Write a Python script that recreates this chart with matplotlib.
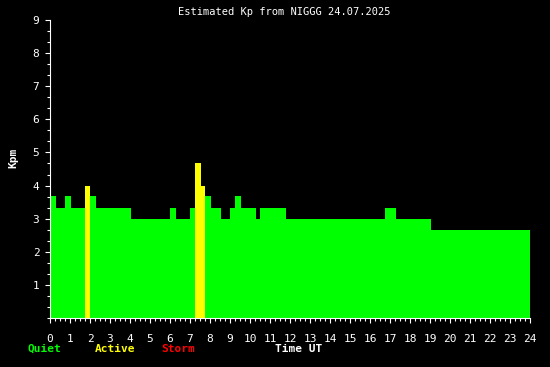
import numpy as np
import matplotlib
matplotlib.use('Agg')
import matplotlib.pyplot as plt

# step edges (hours UT) and estimated Kp for each step
t_start = [0.0, 0.3, 0.75, 1.05, 1.75, 2.0, 2.3, 4.05, 6.0, 6.3, 7.0, 7.25, 7.55, 7.75,
           8.05, 8.55, 9.0, 9.25, 9.55, 10.3, 10.5, 11.8, 16.75, 17.3, 19.05]
t_end = t_start[1:] + [24.0]
kp = [3.67, 3.33, 3.67, 3.33, 4.0, 3.67, 3.33, 3.0, 3.33, 3.0, 3.33, 4.67, 4.0, 3.67,
      3.33, 3.0, 3.33, 3.67, 3.33, 3.0, 3.33, 3.0, 3.33, 3.0, 2.67]

t_start = np.array(t_start)
width = np.array(t_end) - t_start
kp = np.array(kp)
colors = np.where(kp >= 5, '#ff0000', np.where(kp >= 4, '#ffff00', '#00ff00'))

font = 'DejaVu Sans Mono'
plt.rcParams['font.family'] = font

fig = plt.figure(figsize=(5.5, 3.67), dpi=100, facecolor='black')
ax = fig.add_axes([50/550, 49/367, 480/550, 298/367], facecolor='black')

ax.bar(t_start, kp, width=width, align='edge', color=colors, linewidth=0)

ax.set_xlim(0, 24)
ax.set_ylim(0, 9)
for s in ['top', 'right']:
    ax.spines[s].set_visible(False)
for s in ['left', 'bottom']:
    ax.spines[s].set_color('white')
    ax.spines[s].set_linewidth(0.8)

ax.set_xticks(np.arange(0, 25, 1))
ax.set_xticks(np.arange(0, 24.01, 0.25), minor=True)
ax.set_yticks(np.arange(1, 10, 1))
ax.set_yticks(np.arange(0, 9.01, 1/3), minor=True)
ax.tick_params(which='major', length=3.6, width=0.8, colors='white', labelsize=8)
ax.tick_params(which='minor', length=2.2, width=0.8, colors='white')
ax.tick_params(axis='x', which='major', pad=8)
ax.tick_params(axis='y', which='major', pad=4)

fig.text(284/550, 1 - 12/367, 'Estimated Kp from NIGGG 24.07.2025', color='white',
         fontsize=7.5, ha='center', va='center')
fig.text(13/550, 1 - 158/367, 'Kpm', color='white', fontsize=8, fontweight='bold',
         rotation=90, ha='center', va='center')

fig.text(28/550, 1 - 349/367, 'Quiet', color='#00ff00', fontsize=8, fontweight='bold', va='center')
fig.text(95/550, 1 - 349/367, 'Active', color='#ffff00', fontsize=8, fontweight='bold', va='center')
fig.text(161/550, 1 - 349/367, 'Storm', color='#ff0000', fontsize=8, fontweight='bold', va='center')
fig.text(275/550, 1 - 349/367, 'Time UT', color='white', fontsize=8, fontweight='bold', va='center')

fig.savefig('out.png', dpi=100, facecolor='black')
